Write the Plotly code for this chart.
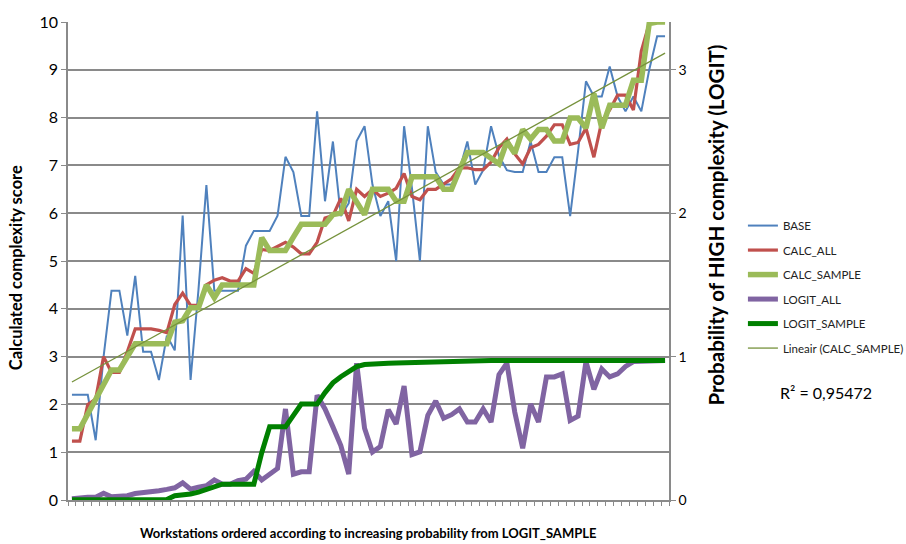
import numpy as np
import plotly.graph_objects as go

# Workstations 1..76, ordered by increasing LOGIT_SAMPLE probability
workstations = list(range(1, 77))

# Calculated complexity scores (left axis)
base = [2.2, 2.2, 2.2, 1.25, 3.0, 4.38, 4.38, 3.44, 4.69, 3.1,
        3.1, 2.51, 3.44, 3.13, 5.95, 2.51, 4.4, 6.59, 4.38, 4.38,
        4.38, 4.38, 5.32, 5.63, 5.63, 5.63, 5.95, 7.18, 6.86, 5.94,
        5.94, 8.13, 6.25, 7.5, 5.94, 6.21, 7.51, 7.82, 6.6, 5.94,
        6.25, 5.0, 7.82, 6.52, 5.0, 7.82, 6.86, 6.6, 6.6, 6.9,
        7.5, 6.6, 6.9, 7.82, 7.2, 6.9, 6.86, 6.86, 7.5, 6.86,
        6.86, 7.17, 7.17, 5.94, 7.3, 8.76, 8.44, 8.44, 9.07, 8.44,
        8.13, 8.44, 8.13, 9.0, 9.7, 9.7]

calc_all = [1.23, 1.23, 2.0, 2.11, 3.0, 2.67, 2.67, 3.1, 3.58, 3.58,
            3.58, 3.55, 3.5, 4.09, 4.33, 4.07, 4.07, 4.5, 4.6, 4.65,
            4.58, 4.58, 4.84, 4.74, 5.24, 5.22, 5.3, 5.39, 5.29, 5.15,
            5.15, 5.39, 5.9, 5.95, 6.31, 5.84, 6.5, 6.35, 6.5, 6.35,
            6.42, 6.52, 6.83, 6.35, 6.28, 6.5, 6.5, 6.62, 6.72, 6.95,
            6.95, 6.91, 6.91, 7.07, 7.37, 7.55, 7.24, 7.03, 7.37, 7.44,
            7.61, 7.85, 7.85, 7.44, 7.48, 7.78, 7.17, 7.92, 8.16, 8.47,
            8.47, 8.16, 9.39, 9.97, 10.0, 10.0]

calc_sample = [1.49, 1.49, 1.8, 2.1, 2.4, 2.72, 2.72, 3.0, 3.27, 3.27,
               3.27, 3.27, 3.27, 3.72, 3.75, 4.02, 4.02, 4.5, 4.23, 4.5,
               4.5, 4.5, 4.5, 4.5, 5.49, 5.22, 5.22, 5.22, 5.5, 5.77,
               5.77, 5.77, 5.77, 5.97, 6.0, 6.5, 6.25, 5.97, 6.5, 6.5,
               6.5, 6.25, 6.25, 6.76, 6.76, 6.76, 6.76, 6.5, 6.5, 6.9,
               7.27, 7.27, 7.27, 7.15, 7.03, 7.5, 7.25, 7.75, 7.55, 7.75,
               7.75, 7.51, 7.51, 7.99, 7.99, 7.78, 8.5, 7.78, 8.26, 8.26,
               8.26, 8.78, 8.78, 9.97, 10.0, 10.0]

# Probabilities of HIGH complexity (right axis)
logit_all = [0.008, 0.015, 0.019, 0.019, 0.047, 0.022, 0.022, 0.03, 0.045, 0.05,
             0.06, 0.065, 0.074, 0.085, 0.12, 0.075, 0.09, 0.1, 0.14, 0.11,
             0.11, 0.135, 0.145, 0.2, 0.14, 0.18, 0.22, 0.635, 0.18, 0.197,
             0.197, 0.73, 0.635, 0.51, 0.38, 0.18, 0.954, 0.5, 0.334, 0.373,
             0.63, 0.53, 0.795, 0.316, 0.336, 0.59, 0.69, 0.57, 0.595, 0.635,
             0.544, 0.544, 0.635, 0.544, 0.874, 0.954, 0.612, 0.361, 0.669, 0.544,
             0.858, 0.858, 0.879, 0.555, 0.585, 0.965, 0.771, 0.913, 0.858, 0.879,
             0.931, 0.965, 0.965, 0.965, 0.97, 0.972]

logit_sample = [0.002, 0.002, 0.002, 0.002, 0.002, 0.002, 0.002, 0.002, 0.002, 0.002,
                0.002, 0.002, 0.004, 0.03, 0.033, 0.042, 0.055, 0.075, 0.088, 0.11,
                0.11, 0.11, 0.11, 0.11, 0.33, 0.51, 0.51, 0.51, 0.59, 0.669,
                0.669, 0.669, 0.749, 0.817, 0.86, 0.9, 0.93, 0.945, 0.95, 0.952,
                0.954, 0.956, 0.958, 0.958, 0.96, 0.96, 0.962, 0.964, 0.966, 0.968,
                0.97, 0.97, 0.971, 0.972, 0.972, 0.972, 0.972, 0.972, 0.972, 0.972,
                0.972, 0.972, 0.972, 0.972, 0.972, 0.972, 0.972, 0.972, 0.972, 0.972,
                0.972, 0.972, 0.972, 0.972, 0.972, 0.972]

left_ticks = list(range(0, 11))
right_ticks = [0, 1, 2, 3]
r_squared_label = "R² = 0,95472"

# Linear trend of CALC_SAMPLE
slope, intercept = np.polyfit(workstations, calc_sample, 1)
trend = [slope * w + intercept for w in workstations]

FONT = "Lato, 'Open Sans', sans-serif"
GRID = "#8a8a8a"

fig = go.Figure()

series = [
    ("BASE", base, "#4F81BD", 2.0, "y"),
    ("CALC_ALL", calc_all, "#C0504D", 3.2, "y"),
    ("CALC_SAMPLE", calc_sample, "#9BBB59", 5.5, "y"),
    ("LOGIT_ALL", logit_all, "#8064A2", 5.0, "y2"),
    ("LOGIT_SAMPLE", logit_sample, "#008000", 5.0, "y2"),
]
for name, values, color, width, axis in series:
    fig.add_trace(go.Scatter(
        x=workstations, y=values, name=name, mode="lines",
        line=dict(color=color, width=width, shape="linear"),
        yaxis=axis, legendgroup=name, cliponaxis=False,
    ))

fig.add_trace(go.Scatter(
    x=workstations, y=trend, name="Lineair (CALC_SAMPLE)", mode="lines",
    line=dict(color="#76923C", width=1.3), yaxis="y",
    legendgroup="trend",
))

fig.update_layout(
    width=906, height=544,
    margin=dict(l=68, r=237, t=12, b=44),
    paper_bgcolor="white", plot_bgcolor="white",
    font=dict(family=FONT, color="#000000"),
    showlegend=True,
    legend=dict(
        xref="container", yref="container",
        x=0.82, y=0.612, xanchor="left", yanchor="top",
        font=dict(family=FONT, size=11.5, color="#222222"),
        bgcolor="rgba(0,0,0,0)", tracegroupgap=5.5,
        itemwidth=30,
    ),
    xaxis=dict(
        range=[0.5, 76.5],
        tickmode="array", tickvals=[k + 0.5 for k in range(77)],
        showticklabels=False, ticks="outside", ticklen=4,
        tickcolor=GRID, tickwidth=1,
        showline=True, linecolor=GRID, linewidth=1.5,
        showgrid=False, zeroline=False,
    ),
    yaxis=dict(
        range=[0, 10],
        tickmode="array", tickvals=left_ticks,
        ticks="outside", ticklen=5, tickcolor=GRID,
        tickfont=dict(family=FONT, size=16, color="#000000"),
        showline=True, linecolor=GRID, linewidth=1.5,
        showgrid=True, gridcolor=GRID, gridwidth=1.5,
        zeroline=False,
    ),
    yaxis2=dict(
        overlaying="y", side="right",
        range=[0, 10 / 3],
        tickmode="array", tickvals=right_ticks,
        ticks="outside", ticklen=5, tickcolor=GRID,
        tickfont=dict(family=FONT, size=14, color="#000000"),
        showline=True, linecolor=GRID, linewidth=1.5,
        showgrid=False, zeroline=False,
    ),
    annotations=[
        dict(text="<b>Calculated complexity score</b>", textangle=-90,
             xref="paper", yref="paper", x=-0.0865, y=0.485,
             xanchor="center", yanchor="middle", showarrow=False,
             font=dict(family=FONT, size=16.5, color="#000000")),
        dict(text="<b>Probability of HIGH complexity (LOGIT)</b>", textangle=-90,
             xref="paper", yref="paper", x=1.078, y=0.576,
             xanchor="center", yanchor="middle", showarrow=False,
             font=dict(family=FONT, size=20.5, color="#000000")),
        dict(text="<b>Workstations ordered according to increasing probability from LOGIT_SAMPLE</b>",
             xref="paper", yref="paper", x=0.499, y=-0.0687,
             xanchor="center", yanchor="middle", showarrow=False,
             font=dict(family=FONT, size=13, color="#000000")),
        dict(text=r_squared_label,
             xref="paper", yref="paper", x=1.261, y=0.2246,
             xanchor="center", yanchor="middle", showarrow=False,
             font=dict(family=FONT, size=16, color="#000000")),
    ],
)

fig.write_html("out.html")
